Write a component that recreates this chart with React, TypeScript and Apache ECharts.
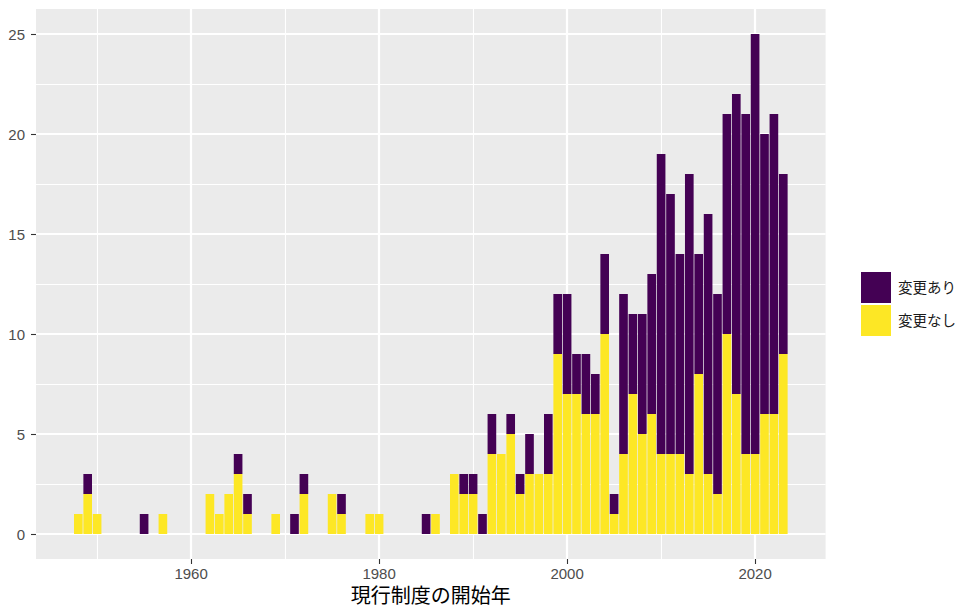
import React, { useEffect, useRef } from "react";
import * as echarts from "echarts";

const startYear = 1948;
// 変更なし (no change) per year, 1948..2023
const noChange = [
  1, 2, 1, 0, 0, 0, 0, 0, 0, 1,
  0, 0, 0, 0, 2, 1, 2, 3, 1, 0,
  0, 1, 0, 0, 2, 0, 0, 2, 1, 0,
  0, 1, 1, 0, 0, 0, 0, 0, 1, 0,
  3, 2, 2, 0, 4, 4, 5, 2, 3, 3,
  3, 9, 7, 7, 6, 6, 10, 1, 4, 7,
  5, 6, 4, 4, 4, 3, 8, 3, 2, 10,
  7, 4, 4, 6, 6, 9,
];
// 変更あり (changed) per year, 1948..2023
const changed = [
  0, 1, 0, 0, 0, 0, 0, 1, 0, 0,
  0, 0, 0, 0, 0, 0, 0, 1, 1, 0,
  0, 0, 0, 1, 1, 0, 0, 0, 1, 0,
  0, 0, 0, 0, 0, 0, 0, 1, 0, 0,
  0, 1, 1, 1, 2, 0, 1, 1, 2, 0,
  3, 3, 5, 2, 3, 2, 4, 1, 8, 4,
  6, 7, 15, 13, 10, 15, 6, 13, 10, 11,
  15, 17, 21, 14, 15, 9,
];
const years = noChange.map((_, i) => startYear + i);

// axis span (year bins shown, including empty padding bins)
const axisFirstYear = 1944;
const axisLastYear = 2027;

const xMajorTicks = [1960, 1980, 2000, 2020];
const xMinorTicks = [1950, 1970, 1990, 2010];
const yMajorTicks = [0, 5, 10, 15, 20, 25];
const yMinorTicks = [2.5, 7.5, 12.5, 17.5, 22.5];

const seriesNames = ["変更あり", "変更なし"];
const colors = { changed: "#440154", noChange: "#FDE725" };

const FONT = '"Liberation Sans", Arial, "Noto Sans CJK JP", sans-serif';

export default function App() {
  const ref = useRef<HTMLDivElement>(null);
  useEffect(() => {
    if (!ref.current) return;
    const chart = echarts.init(ref.current, null, { renderer: "svg" });
    const categories: string[] = [];
    for (let y = axisFirstYear; y <= axisLastYear; y++) categories.push(String(y));
    const valueFor = (arr: number[]) =>
      categories.map((c) => {
        const i = years.indexOf(Number(c));
        return i >= 0 ? arr[i] : null;
      });
    const xMin = axisFirstYear - 0.5;
    const xMax = axisLastYear + 0.5;
    const yMin = -1.25;
    const yMax = 26.25;
    const option: any = {
      animation: false,
      backgroundColor: "#FFFFFF",
      textStyle: { fontFamily: FONT },
      grid: {
        left: 36,
        top: 9,
        width: 789.6,
        height: 550,
        show: true,
        backgroundColor: "#EBEBEB",
        borderWidth: 0,
        containLabel: false,
        outerBoundsMode: "none",
      },
      legend: {
        orient: "vertical",
        left: 856,
        top: 267,
        itemWidth: 30,
        itemHeight: 31,
        itemGap: 2,
        icon: "rect",
        data: seriesNames,
        selectedMode: false,
        textStyle: {
          fontSize: 14.5,
          color: "#1A1A1A",
          fontFamily: FONT,
          padding: [0, 0, 0, 2],
        },
      },
      xAxis: [
        {
          type: "category",
          data: categories,
          boundaryGap: true,
          position: "bottom",
          axisLine: { show: false, onZero: false },
          axisTick: { show: false },
          axisLabel: { show: false },
          splitLine: { show: false },
        },
        {
          type: "value",
          min: xMin,
          max: xMax,
          position: "bottom",
          axisLine: { show: false, onZero: false },
          axisTick: {
            show: true,
            customValues: xMajorTicks,
            length: 5,
            lineStyle: { color: "#333333", width: 1.1 },
          },
          axisLabel: {
            customValues: xMajorTicks,
            color: "#4D4D4D",
            fontSize: 15,
            margin: 7,
            fontFamily: FONT,
            formatter: (v: number) => String(v),
          },
          splitLine: { show: true, lineStyle: { color: "#FFFFFF", width: 2.2 } },
          name: "現行制度の開始年",
          nameLocation: "middle",
          nameGap: 24,
          nameTextStyle: { fontSize: 20, color: "#000000", fontFamily: FONT },
        },
        {
          type: "value",
          min: xMin,
          max: xMax,
          position: "top",
          axisLine: { show: false, onZero: false },
          axisTick: { show: false, customValues: xMinorTicks },
          axisLabel: { show: false, customValues: xMinorTicks },
          splitLine: { show: true, lineStyle: { color: "#FFFFFF", width: 1.1 } },
        },
      ],
      yAxis: [
        {
          type: "value",
          min: yMin,
          max: yMax,
          position: "left",
          axisLine: { show: false, onZero: false },
          axisTick: {
            show: true,
            customValues: yMajorTicks,
            length: 5,
            lineStyle: { color: "#333333", width: 1.1 },
          },
          axisLabel: {
            customValues: yMajorTicks,
            color: "#4D4D4D",
            fontSize: 15,
            margin: 11,
            fontFamily: FONT,
          },
          splitLine: { show: true, lineStyle: { color: "#FFFFFF", width: 2.2 } },
        },
        {
          type: "value",
          min: yMin,
          max: yMax,
          position: "right",
          axisLine: { show: false, onZero: false },
          axisTick: { show: false, customValues: yMinorTicks },
          axisLabel: { show: false, customValues: yMinorTicks },
          splitLine: { show: true, lineStyle: { color: "#FFFFFF", width: 1.1 } },
        },
      ],
      series: [
        {
          name: "変更なし",
          type: "bar",
          stack: "total",
          xAxisIndex: 0,
          yAxisIndex: 0,
          barWidth: "92%",
          itemStyle: { color: colors.noChange },
          data: valueFor(noChange),
        },
        {
          name: "変更あり",
          type: "bar",
          stack: "total",
          xAxisIndex: 0,
          yAxisIndex: 0,
          barWidth: "92%",
          itemStyle: { color: colors.changed },
          data: valueFor(changed),
        },
      ],
    };
    chart.setOption(option);
    return () => chart.dispose();
  }, []);
  return (
    <div
      ref={ref}
      style={{ position: "absolute", left: 0, top: 0, width: 960, height: 606 }}
    />
  );
}
